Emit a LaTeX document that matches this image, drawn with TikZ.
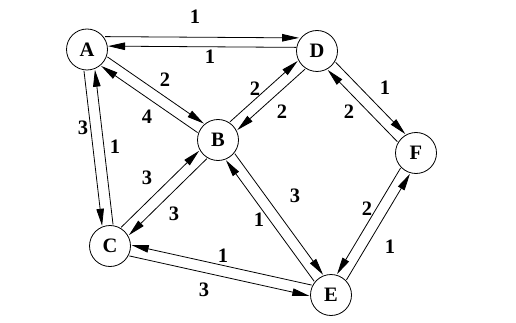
\documentclass[tikz,border=0pt]{standalone}
\usepackage{fontspec}
\setmainfont{Liberation Serif}
\usetikzlibrary{arrows.meta,calc}

\begin{document}
\begin{tikzpicture}[x=1pt,y=-1pt,>={Triangle[length=17pt,width=7.5pt]},
  vertex/.style={draw,circle,minimum size=41pt,inner sep=0pt,line width=0.8pt,font=\bfseries\fontsize{20.5}{24}\selectfont},
  wt/.style={inner sep=0pt,font=\bfseries\fontsize{20.5}{24}\selectfont},
  arc/.style={->,line width=0.8pt,shorten <=21pt,shorten >=21pt}]
\useasboundingbox (0,0) rectangle (516,323);
\node[vertex] (A) at (87,49.5) {A};
\node[vertex] (B) at (218,140) {B};
\node[vertex] (C) at (110,246) {C};
\node[vertex] (D) at (317,51) {D};
\node[vertex] (E) at (331,295) {E};
\node[vertex] (F) at (416,153) {F};
% left of travel: 90 at tail, -90 at head; right: the other way round
\draw[arc,shorten <=18pt,shorten >=18pt] ($(A)!13pt!90:(D)$) -- ($(D)!13pt!-90:(A)$);
\draw[arc] ($(D)!3.5pt!-90:(A)$) -- ($(A)!3.5pt!90:(D)$);
\draw[arc] ($(A)!5.5pt!90:(B)$) -- ($(B)!5.5pt!-90:(A)$);
\draw[arc] ($(B)!5.5pt!90:(A)$) -- ($(A)!5.5pt!-90:(B)$);
\draw[arc] ($(B)!5.5pt!90:(D)$) -- ($(D)!5.5pt!-90:(B)$);
\draw[arc] ($(D)!5.5pt!90:(B)$) -- ($(B)!5.5pt!-90:(D)$);
\draw[arc] ($(A)!5.5pt!-90:(C)$) -- ($(C)!5.5pt!90:(A)$);
\draw[arc] ($(C)!5.5pt!-90:(A)$) -- ($(A)!5.5pt!90:(C)$);
\draw[arc] ($(C)!5.5pt!90:(B)$) -- ($(B)!5.5pt!-90:(C)$);
\draw[arc] ($(B)!5.5pt!90:(C)$) -- ($(C)!5.5pt!-90:(B)$);
\draw[arc] ($(B)!5.5pt!90:(E)$) -- ($(E)!5.5pt!-90:(B)$);
\draw[arc] ($(E)!5.5pt!90:(B)$) -- ($(B)!5.5pt!-90:(E)$);
\draw[arc] ($(E)!5.5pt!-90:(C)$) -- ($(C)!5.5pt!90:(E)$);
\draw[arc] ($(C)!5.5pt!-90:(E)$) -- ($(E)!5.5pt!90:(C)$);
\draw[arc] ($(D)!5.5pt!90:(F)$) -- ($(F)!5.5pt!-90:(D)$);
\draw[arc] ($(F)!5.5pt!90:(D)$) -- ($(D)!5.5pt!-90:(F)$);
\draw[arc] ($(F)!5.5pt!-90:(E)$) -- ($(E)!5.5pt!90:(F)$);
\draw[arc] ($(E)!5.5pt!-90:(F)$) -- ($(F)!5.5pt!90:(E)$);
% weights
\node[wt] (wAD) at (195,17) {1};
\node[wt] (wDA) at (210,57) {1};
\node[wt] (wAB) at (165,80) {2};
\node[wt] (wBA) at (147,117) {4};
\node[wt] (wBD) at (255,89) {2};
\node[wt] (wDB) at (282,112) {2};
\node[wt] (wAC) at (83,128) {3};
\node[wt] (wCA) at (115,147) {1};
\node[wt] (wCB) at (147,178) {3};
\node[wt] (wBC) at (174,214) {3};
\node[wt] (wBE) at (295,196) {3};
\node[wt] (wEB) at (259,220) {1};
\node[wt] (wEC) at (223,256) {1};
\node[wt] (wCE) at (204,290) {3};
\node[wt] (wDF) at (385,88) {1};
\node[wt] (wFD) at (349,112) {2};
\node[wt] (wFE) at (367,209) {2};
\node[wt] (wEF) at (390,247) {1};
\end{tikzpicture}
\end{document}
